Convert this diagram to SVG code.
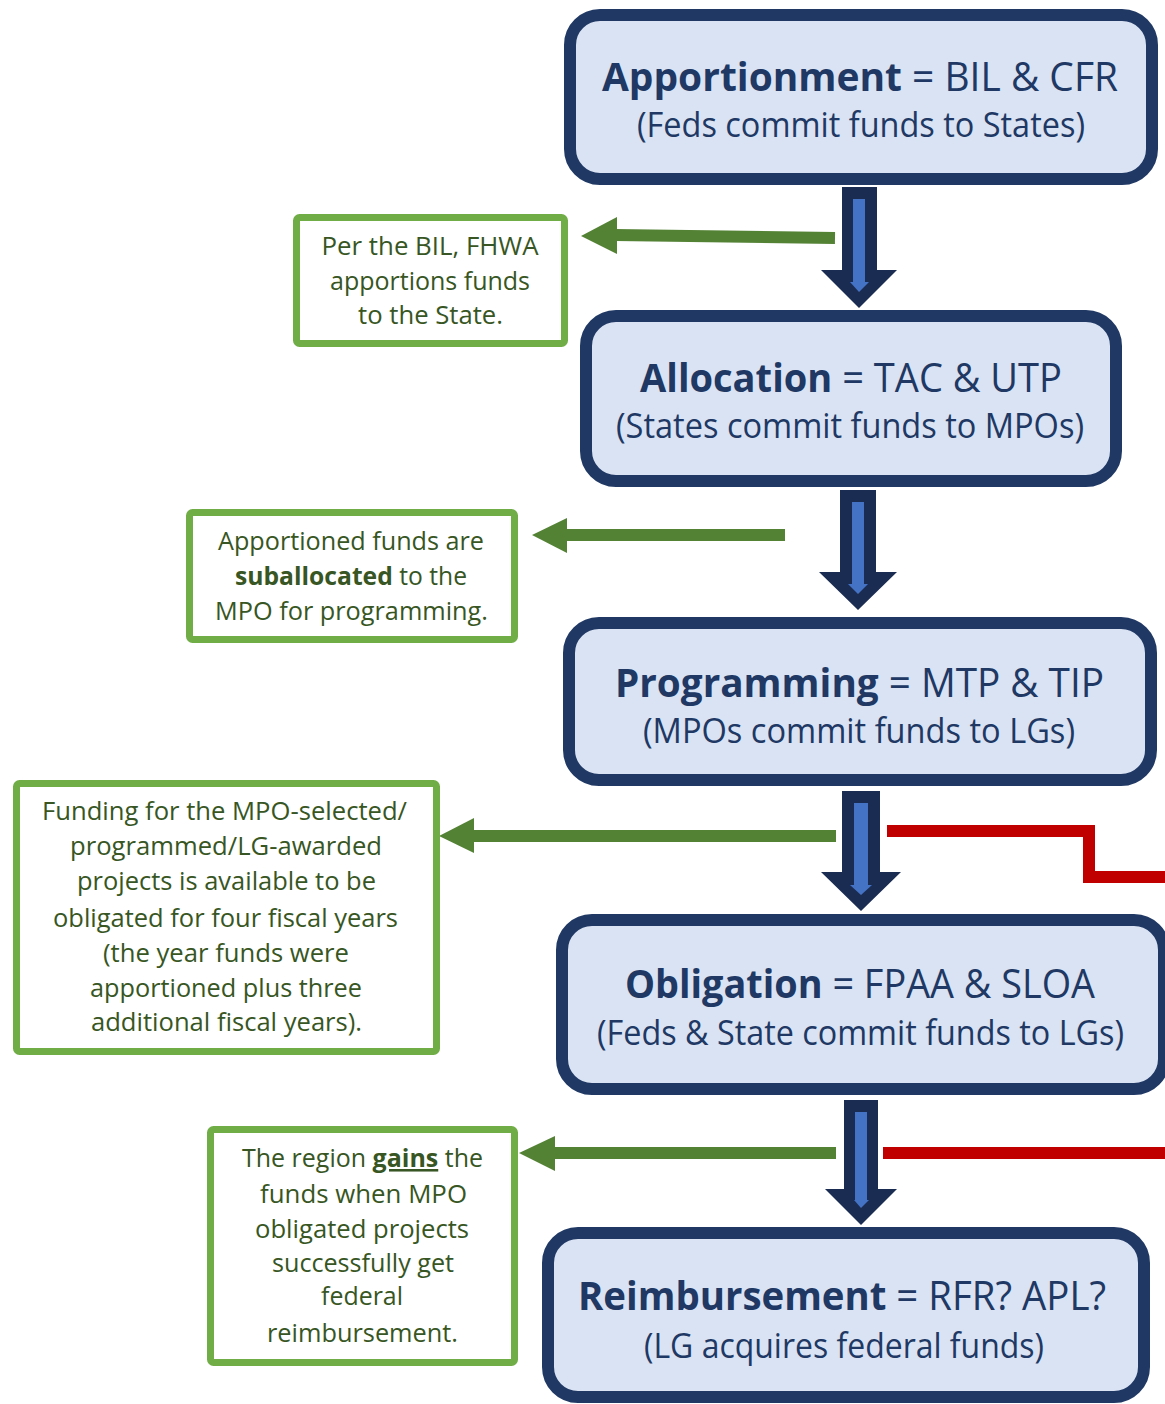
<svg xmlns="http://www.w3.org/2000/svg" width="1165" height="1404" viewBox="0 0 1165 1404">
<style>
.box{fill:#dae3f3;stroke:#203864;stroke-width:12}
.gbox{fill:#ffffff;stroke:#70ad47;stroke-width:7}
.t1{font-family:"Open Sans","Noto Sans",sans-serif;font-size:40px;fill:#203864;text-anchor:middle}
.t2{font-family:"Open Sans","Noto Sans",sans-serif;font-size:35px;fill:#203864;text-anchor:middle}
.g{font-family:"Open Sans","Noto Sans",sans-serif;font-size:25.5px;fill:#375623;text-anchor:middle}
.b{font-weight:700}
.dk{fill:#1b2c52}
.lt{fill:#4472c4}
.gl{stroke:#548235;stroke-width:12;fill:none}
.gh{fill:#548235}
.rl{stroke:#c00000;stroke-width:12;fill:none}
</style>
<rect width="1165" height="1404" fill="#ffffff"/>
<g id="connectors">
  <g id="down1"><polygon class="dk" points="842,187 877,187 877,270 897,270 859,308 821,270 842,270"/><polygon class="lt" points="853,199 865,199 865,282 869,282 859,292 850,282 853,282"/></g>
  <g id="down2"><polygon class="dk" points="840,490 876,490 876,572 897,572 858,610 819,572 840,572"/><polygon class="lt" points="852,502 864,502 864,584 868,584 858,594 848,584 852,584"/></g>
  <g id="down3"><polygon class="dk" points="842,791 880,791 880,872 901,872 861,911 821,872 842,872"/><polygon class="lt" points="854,803 868,803 868,885 872,885 861,895 850,885 854,885"/></g>
  <g id="down4"><polygon class="dk" points="844,1100 878,1100 878,1189 897,1189 861,1225 825,1189 844,1189"/><polygon class="lt" points="855,1112 867,1112 867,1200 869,1200 861,1208 854,1200 855,1200"/></g>
  <g id="green1"><path class="gl" d="M835,238 L615,235"/><polygon class="gh" points="581,236 617,217 617,254"/></g>
  <g id="green2"><path class="gl" d="M785,535 L565,535"/><polygon class="gh" points="532,535 567,518 567,553"/></g>
  <g id="green3"><path class="gl" d="M836,836 L472,836"/><polygon class="gh" points="439,836 474,818 474,853"/></g>
  <g id="green4"><path class="gl" d="M836,1153 L553,1153"/><polygon class="gh" points="519,1153 555,1136 555,1171"/></g>
  <path id="red1" class="rl" d="M887,831 H1089 V877 H1165"/>
  <path id="red2" class="rl" d="M883,1153 H1165"/>
</g>
<g id="apportionment">
  <rect class="box" x="570" y="15" width="582" height="164" rx="30"/>
  <text class="t1" x="860" y="91" textLength="516" lengthAdjust="spacingAndGlyphs"><tspan class="b">Apportionment</tspan> = BIL &amp; CFR</text>
  <text class="t2" x="861" y="137" textLength="448" lengthAdjust="spacingAndGlyphs">(Feds commit funds to States)</text>
</g>
<g id="allocation">
  <rect class="box" x="586" y="316" width="530" height="165" rx="30"/>
  <text class="t1" x="851" y="392" textLength="422" lengthAdjust="spacingAndGlyphs"><tspan class="b">Allocation</tspan> = TAC &amp; UTP</text>
  <text class="t2" x="850" y="438" textLength="468" lengthAdjust="spacingAndGlyphs">(States commit funds to MPOs)</text>
</g>
<g id="programming">
  <rect class="box" x="569" y="623" width="582" height="157" rx="30"/>
  <text class="t1" x="859.5" y="697" textLength="489" lengthAdjust="spacingAndGlyphs"><tspan class="b">Programming</tspan> = MTP &amp; TIP</text>
  <text class="t2" x="859" y="743" textLength="432" lengthAdjust="spacingAndGlyphs">(MPOs commit funds to LGs)</text>
</g>
<g id="obligation">
  <rect class="box" x="562" y="920" width="602" height="169" rx="30"/>
  <text class="t1" x="860" y="998" textLength="470" lengthAdjust="spacingAndGlyphs"><tspan class="b">Obligation</tspan> = FPAA &amp; SLOA</text>
  <text class="t2" x="860.5" y="1045" textLength="527" lengthAdjust="spacingAndGlyphs">(Feds &amp; State commit funds to LGs)</text>
</g>
<g id="reimbursement">
  <rect class="box" x="548" y="1233" width="596" height="164" rx="30"/>
  <text class="t1" x="842" y="1310" textLength="528" lengthAdjust="spacingAndGlyphs"><tspan class="b">Reimbursement</tspan> = RFR? APL?</text>
  <text class="t2" x="844" y="1358" textLength="400" lengthAdjust="spacingAndGlyphs">(LG acquires federal funds)</text>
</g>
<g id="note1">
  <rect class="gbox" x="296.5" y="217.5" width="268" height="126" rx="3"/>
  <text class="g" x="430" y="255" textLength="217" lengthAdjust="spacingAndGlyphs">Per the BIL, FHWA</text>
  <text class="g" x="430" y="290" textLength="200" lengthAdjust="spacingAndGlyphs">apportions funds</text>
  <text class="g" x="430.5" y="324" textLength="145" lengthAdjust="spacingAndGlyphs">to the State.</text>
</g>
<g id="note2">
  <rect class="gbox" x="189.5" y="512.5" width="325" height="127" rx="3"/>
  <text class="g" x="351" y="550" textLength="266" lengthAdjust="spacingAndGlyphs">Apportioned funds are</text>
  <text class="g" x="351" y="585" textLength="232" lengthAdjust="spacingAndGlyphs"><tspan class="b">suballocated</tspan> to the</text>
  <text class="g" x="351.5" y="620" textLength="273" lengthAdjust="spacingAndGlyphs">MPO for programming.</text>
</g>
<g id="note3">
  <rect class="gbox" x="16.5" y="783.5" width="420" height="268" rx="3"/>
  <text class="g" x="224.5" y="820" textLength="365" lengthAdjust="spacingAndGlyphs">Funding for the MPO-selected/</text>
  <text class="g" x="226" y="855" textLength="312" lengthAdjust="spacingAndGlyphs">programmed/LG-awarded</text>
  <text class="g" x="226.5" y="890" textLength="299" lengthAdjust="spacingAndGlyphs">projects is available to be</text>
  <text class="g" x="225.5" y="927" textLength="345" lengthAdjust="spacingAndGlyphs">obligated for four fiscal years</text>
  <text class="g" x="226" y="962" textLength="246" lengthAdjust="spacingAndGlyphs">(the year funds were</text>
  <text class="g" x="226" y="997" textLength="272" lengthAdjust="spacingAndGlyphs">apportioned plus three</text>
  <text class="g" x="226.5" y="1031" textLength="271" lengthAdjust="spacingAndGlyphs">additional fiscal years).</text>
</g>
<g id="note4">
  <rect class="gbox" x="210.5" y="1129.5" width="304" height="233" rx="3"/>
  <text class="g" x="362.5" y="1167" textLength="241" lengthAdjust="spacingAndGlyphs">The region <tspan class="b" text-decoration="underline">gains</tspan> the</text>
  <text class="g" x="363.5" y="1203" textLength="207" lengthAdjust="spacingAndGlyphs">funds when MPO</text>
  <text class="g" x="362" y="1238" textLength="214" lengthAdjust="spacingAndGlyphs">obligated projects</text>
  <text class="g" x="363" y="1272" textLength="182" lengthAdjust="spacingAndGlyphs">successfully get</text>
  <text class="g" x="362" y="1305" textLength="82" lengthAdjust="spacingAndGlyphs">federal</text>
  <text class="g" x="362.5" y="1342" textLength="191" lengthAdjust="spacingAndGlyphs">reimbursement.</text>
</g>
</svg>
